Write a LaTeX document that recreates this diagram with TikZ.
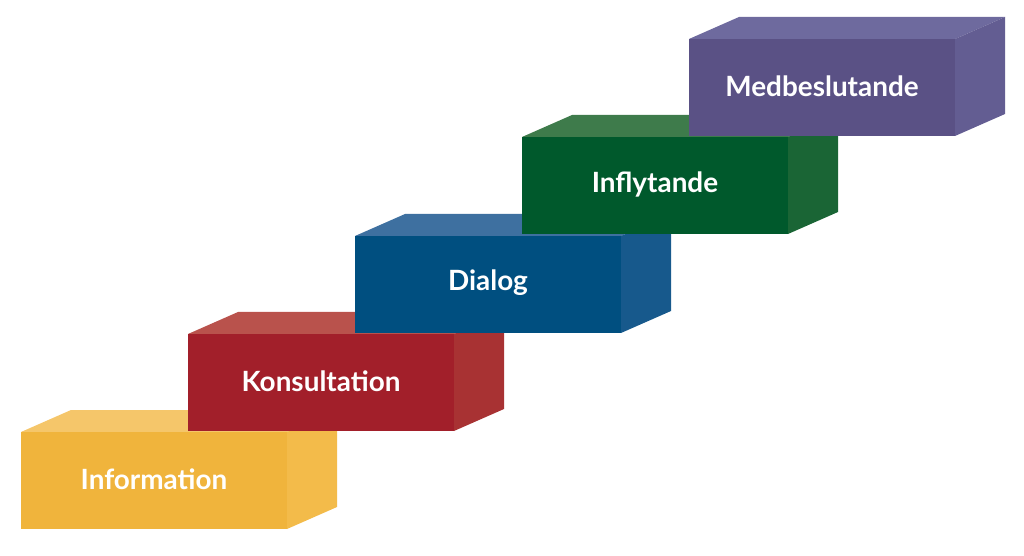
\documentclass[tikz,border=0pt]{standalone}
\usepackage{fontspec}
\setmainfont{Lato}
\begin{document}
\begin{tikzpicture}[x=1bp,y=-1bp,
  lbl/.style={text=white,font=\bfseries\fontsize{28}{30}\selectfont,inner sep=0pt}]
\useasboundingbox (0,0) rectangle (1024,556);
\definecolor{yF}{HTML}{F0B43C}\definecolor{yT}{HTML}{F5C66A}\definecolor{yS}{HTML}{F3BB4A}
\definecolor{rF}{HTML}{A21F2A}\definecolor{rT}{HTML}{B9524C}\definecolor{rS}{HTML}{A83233}
\definecolor{bF}{HTML}{004F80}\definecolor{bT}{HTML}{3E70A0}\definecolor{bS}{HTML}{17598C}
\definecolor{gF}{HTML}{00592C}\definecolor{gT}{HTML}{3E7B4B}\definecolor{gS}{HTML}{1A6535}
\definecolor{pF}{HTML}{5A5185}\definecolor{pT}{HTML}{6E6A9E}\definecolor{pS}{HTML}{635D92}
\foreach \x/\y/\c/\t/\n in {21/432/y/Information/b1,188/334/r/Konsultation/b2,355/236/b/Dialog/b3,522/137/g/Inflytande/b4,689/39/p/Medbeslutande/b5}{
  \fill[\c T] (\x,\y) -- ++(50,-22) -- ++(266,0) -- ++(-50,22) -- cycle;
  \fill[\c S] (\x+266,\y) -- ++(50,-22) -- ++(0,97) -- ++(-50,22) -- cycle;
  \fill[\c F] (\x,\y) rectangle ++(266,97);
  \node[lbl] (\n) at (\x+133,\y+47) {\t};
}
\end{tikzpicture}
\end{document}
